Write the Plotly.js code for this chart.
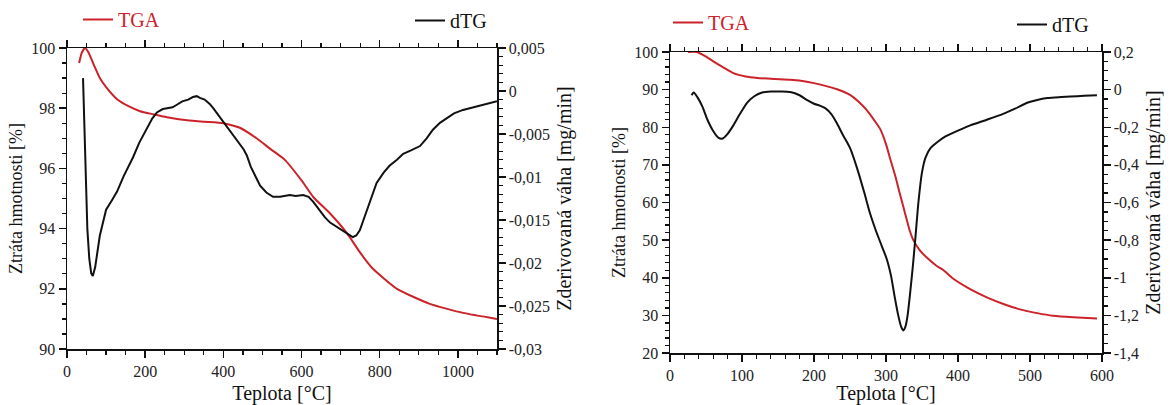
<!DOCTYPE html>
<html><head><meta charset="utf-8">
<script src="https://cdn.plot.ly/plotly-3.0.1.min.js"></script>
<style>
html,body{margin:0;padding:0;background:#fff}
#c{width:1170px;height:405px}
</style>
</head><body><div id="c"></div>
<script>
// Left chart (0-1100 °C)
const tgaT1 = [31, 38, 46, 55, 70, 84, 100, 128, 160, 187, 220, 256, 307, 350, 400, 442, 485, 520, 556, 600, 630, 673, 716, 750, 780, 844, 928, 1013, 1100];
const tgaV1 = [99.5, 99.85, 100, 99.85, 99.4, 99.0, 98.7, 98.3, 98.05, 97.9, 97.8, 97.7, 97.6, 97.55, 97.5, 97.35, 97.0, 96.65, 96.3, 95.6, 95.05, 94.5, 93.85, 93.2, 92.7, 92.0, 91.5, 91.2, 91.0];
const dtgT1 = [41, 44, 48, 52, 57, 62, 66, 72, 84, 100, 115, 128, 145, 160, 169, 185, 205, 218, 230, 245, 256, 270, 281, 295, 310, 322, 332, 340, 352, 365, 374, 390, 405, 417, 430, 442, 452, 460, 470, 483, 494, 510, 527, 545, 560, 570, 585, 604, 618, 630, 645, 660, 673, 690, 705, 716, 731, 740, 749, 760, 775, 792, 810, 825, 844, 860, 880, 903, 920, 936, 954, 972, 990, 1013, 1030, 1045, 1056, 1070, 1085, 1100];
const dtgV1 = [0.0015, -0.004, -0.011, -0.016, -0.0195, -0.0212, -0.0215, -0.0205, -0.0168, -0.0138, -0.0127, -0.0117, -0.0099, -0.0086, -0.0077, -0.006, -0.0042, -0.0032, -0.0025, -0.0021, -0.002, -0.0019, -0.0016, -0.0012, -0.001, -0.0007, -0.0006, -0.0008, -0.001, -0.0015, -0.002, -0.003, -0.0038, -0.0046, -0.0055, -0.0062, -0.0068, -0.0075, -0.0088, -0.01, -0.011, -0.0118, -0.0123, -0.0123, -0.0122, -0.0121, -0.0122, -0.0121, -0.0123, -0.0129, -0.0138, -0.0147, -0.0153, -0.0158, -0.0162, -0.0165, -0.017, -0.0168, -0.0162, -0.0148, -0.0128, -0.0107, -0.0095, -0.0087, -0.008, -0.0073, -0.0069, -0.0064, -0.0055, -0.0045, -0.0037, -0.0031, -0.0026, -0.0022, -0.002, -0.0019, -0.0017, -0.0016, -0.0014, -0.0012];
// Right chart (0-600 °C)
const tgaT2 = [25, 37, 50, 60, 75, 88, 105, 121, 145, 167, 190, 212, 232, 250, 262, 273, 285, 292, 300, 306, 313, 319, 326, 333, 338, 347, 357, 370, 380, 393, 415, 440, 465, 486, 510, 532, 560, 593];
const tgaV2 = [100, 100, 98.8, 97.5, 95.8, 94.4, 93.5, 93.1, 92.8, 92.6, 92.1, 91.2, 90.1, 88.6, 86.8, 84.6, 81.5, 79.5, 75.5, 71.5, 67, 62.5, 57.5, 52.5, 50.0, 47.3, 45.3, 43.2, 42.0, 39.8, 37.2, 34.8, 32.9, 31.6, 30.6, 29.9, 29.5, 29.2];
const dtgT2 = [30, 33, 38, 45, 52, 60, 67, 73, 80, 88, 97, 107, 117, 128, 140, 155, 167, 180, 190, 200, 208, 216, 224, 232, 240, 250, 260, 270, 278, 286, 294, 301, 307, 312, 317, 321, 324, 327, 330, 333, 337, 341, 345, 350, 355, 362, 371, 382, 393, 417, 440, 462, 480, 496, 510, 524, 540, 556, 575, 593];
const dtgV2 = [-0.03, -0.015, -0.04, -0.09, -0.16, -0.22, -0.255, -0.26, -0.235, -0.19, -0.13, -0.07, -0.035, -0.015, -0.01, -0.01, -0.013, -0.03, -0.055, -0.075, -0.085, -0.1, -0.13, -0.18, -0.24, -0.31, -0.42, -0.55, -0.66, -0.75, -0.83, -0.9, -0.99, -1.1, -1.2, -1.26, -1.28, -1.26, -1.2, -1.1, -0.95, -0.78, -0.6, -0.44, -0.36, -0.31, -0.28, -0.25, -0.23, -0.19, -0.16, -0.13, -0.1, -0.07, -0.055, -0.045, -0.04, -0.037, -0.033, -0.03];
// Tick labels
const y2Vals = [0.005, 0, -0.005, -0.01, -0.015, -0.02, -0.025, -0.03];
const y2Text = ["0,005", "0", "-0,005", "-0,01", "-0,015", "-0,02", "-0,025", "-0,03"];
const y4Vals = [0.2, 0, -0.2, -0.4, -0.6, -0.8, -1, -1.2, -1.4];
const y4Text = ["0,2", "0", "-0,2", "-0,4", "-0,6", "-0,8", "-1", "-1,2", "-1,4"];
const seriesNames = ["TGA", "dTG"];

const RED = "#cc2229";
const F = "Liberation Serif";
function font(size, color) { return {family: F, size: size, color: color || "#111"}; }

const traces = [
  {x: tgaT1, y: tgaV1, name: seriesNames[0], xaxis: "x", yaxis: "y", mode: "lines", line: {color: RED, width: 2, shape: "spline", smoothing: 0.5}, legend: "legend"},
  {x: dtgT1, y: dtgV1, name: seriesNames[1], xaxis: "x", yaxis: "y2", mode: "lines", line: {color: "#111", width: 2}, legend: "legend2"},
  {x: tgaT2, y: tgaV2, name: seriesNames[0], xaxis: "x2", yaxis: "y3", mode: "lines", line: {color: RED, width: 2, shape: "spline", smoothing: 0.5}, legend: "legend3"},
  {x: dtgT2, y: dtgV2, name: seriesNames[1], xaxis: "x2", yaxis: "y4", mode: "lines", line: {color: "#111", width: 2, shape: "spline", smoothing: 0.6}, legend: "legend4"}
];

function base() {
  return {showgrid: false, zeroline: false, showline: true, linecolor: "#111", linewidth: 1.5,
    ticks: "outside", ticklen: 7, tickwidth: 1.5, tickcolor: "#111", tickfont: font(16, "#222")};
}
function minor(extra) {
  return Object.assign({ticklen: 4, tickwidth: 1.3, tickcolor: "#111", ticks: "outside"}, extra);
}
function xAx(dom, range, dtick, mdtick, anchor) {
  return Object.assign(base(), {domain: dom, range: range, dtick: dtick, tick0: 0, anchor: anchor, mirror: "ticks",
    minor: minor({dtick: mdtick, tick0: 0}),
    title: {text: "Teplota [°C]", font: font(20), standoff: 11}});
}
function yAx(dom, range, dtick, mdtick, anchor) {
  return Object.assign(base(), {domain: dom, range: range, dtick: dtick, tick0: 0, anchor: anchor,
    minor: minor({dtick: mdtick, tick0: 0}),
    title: {text: "Ztráta hmotnosti [%]", font: font(18), standoff: 4}});
}
function y2Ax(range, vals, text, mdtick, overlay, anchor) {
  return Object.assign(base(), {range: range, tickmode: "array", tickvals: vals, ticktext: text,
    overlaying: overlay, side: "right", anchor: anchor,
    minor: minor({tickmode: "linear", dtick: mdtick, tick0: 0}),
    title: {text: "Zderivovaná váha [mg/min]", font: font(20), standoff: 8}});
}

const lx1 = [67/1170, 497/1170], ly1 = [1-349/405, 1-48/405];
const lx2 = [670/1170, 1102/1170], ly2 = [1-353/405, 1-52/405];

function leg(x, y, color) {
  return {x: x, y: y, xanchor: "left", yanchor: "top", bgcolor: "rgba(0,0,0,0)", borderwidth: 0,
    font: font(20, color), orientation: "h", itemwidth: 30};
}

const layout = {
  width: 1170, height: 405, margin: {l: 0, r: 0, t: 0, b: 0},
  font: {family: F, size: 16, color: "#111"},
  paper_bgcolor: "#fff", plot_bgcolor: "#fff", showlegend: true,
  xaxis: xAx(lx1, [0, 1100], 200, 50, "y"),
  yaxis: yAx(ly1, [90, 100], 2, 0.5, "x"),
  yaxis2: y2Ax([-0.03, 0.005], y2Vals, y2Text, 0.001, "y", "x"),
  xaxis2: xAx(lx2, [0, 600], 100, 20, "y3"),
  yaxis3: yAx(ly2, [20, 100], 10, 2, "x2"),
  yaxis4: y2Ax([-1.4, 0.2], y4Vals, y4Text, 0.05, "y3", "x2"),
  legend: leg(78/1170, 1 - 0/405, RED),
  legend2: leg(410/1170, 1 - 1/405, "#111"),
  legend3: leg(668/1170, 1 - 3/405, RED),
  legend4: leg(1012/1170, 1 - 5/405, "#111")
};

Plotly.newPlot("c", traces, layout, {displayModeBar: false, staticPlot: true});
</script></body></html>
